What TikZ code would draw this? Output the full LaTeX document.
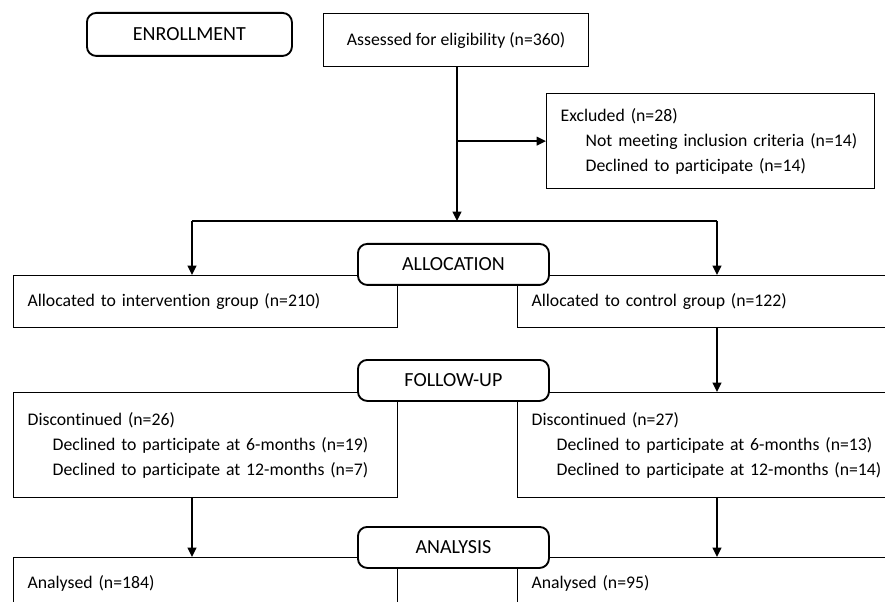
\documentclass[tikz,border=0pt]{standalone}
\usepackage{fontspec}
\setmainfont{Carlito}[Ligatures=NoCommon]
\usetikzlibrary{arrows.meta,positioning}

\newcommand{\indline}[1]{\mbox{\hspace*{18.75pt}#1}}

\tikzset{
  phase/.style={draw, fill=white, rounded corners=7pt, line width=1.4pt, inner sep=0pt,
    font=\fontsize{15}{18}\selectfont},
  infobox/.style={draw, line width=0.9pt, align=left, inner xsep=10.5pt, inner ysep=0pt},
  wh/.style 2 args={minimum width=#1*0.75pt, minimum height=#2*0.75pt},
  tw/.style={text width=#1*0.75pt-21pt},
  flow/.style={line width=1.3pt, -{Triangle[length=7pt,width=6.5pt]}},
  bar/.style={line width=1.3pt},
}

\begin{document}
\begin{tikzpicture}[x=0.75pt, y=-0.75pt, font=\fontsize{13.3}{18.75}\selectfont]
  \useasboundingbox (0,0) rectangle (885,602);
  \clip (0,0) rectangle (885,602);

  % content boxes
  \node[infobox, wh={265}{53}, anchor=north west] (assessed) at (323,13) {Assessed for eligibility (n=360)};
  \node[infobox, tw=328, wh={328}{95}, anchor=north west] (excluded) at (546,93)
    {Excluded (n=28)\\ \indline{Not meeting inclusion criteria (n=14)}\\ \indline{Declined to participate (n=14)}};
  \node[infobox, tw=384, wh={384}{52}, anchor=north west] (intervention) at (13,275) {Allocated to intervention group (n=210)};
  \node[infobox, tw=500, wh={500}{52}, anchor=north west] (control) at (517,275) {Allocated to control group (n=122)};
  \node[infobox, tw=384, wh={384}{105}, anchor=north west] (discL) at (13,392)
    {Discontinued (n=26)\\ \indline{Declined to participate at 6-months (n=19)}\\ \indline{Declined to participate at 12-months (n=7)}\\[6pt]};
  \node[infobox, tw=500, wh={500}{105}, anchor=north west] (discR) at (517,392)
    {Discontinued (n=27)\\ \indline{Declined to participate at 6-months (n=13)}\\ \indline{Declined to participate at 12-months (n=14)}\\[6pt]};
  \node[infobox, tw=384, wh={384}{52}, anchor=north west] (analL) at (13,557) {Analysed (n=184)};
  \node[infobox, tw=500, wh={500}{52}, anchor=north west] (analR) at (517,557) {Analysed (n=95)};

  % phase labels
  \node[phase, wh={205}{43}, anchor=north west] (enrol) at (86,12) {ENROLLMENT};
  \node[phase, wh={191}{41}, anchor=north west] (alloc) at (357,243) {ALLOCATION};
  \node[phase, wh={191}{41}, anchor=north west] (follow) at (357,359) {FOLLOW-UP};
  \node[phase, wh={191}{41}, anchor=north west] (analysis) at (357,526) {ANALYSIS};

  % connectors
  \coordinate (split) at (457,221);
  \coordinate (splitL) at (192,221);
  \coordinate (splitR) at (717,221);
  \draw[flow] (assessed.south -| split) -- (split);
  \draw[flow] (split |- excluded.west) -- (excluded.west);
  \draw[bar] (splitL) -- (splitR);
  \draw[flow] (splitL) -- (splitL |- intervention.north);
  \draw[flow] (splitR) -- (splitR |- control.north);
  \draw[flow] (splitR |- control.south) -- (splitR |- discR.north);
  \draw[flow] (splitL |- discL.south) -- (splitL |- analL.north);
  \draw[flow] (splitR |- discR.south) -- (splitR |- analR.north);
\end{tikzpicture}
\end{document}
